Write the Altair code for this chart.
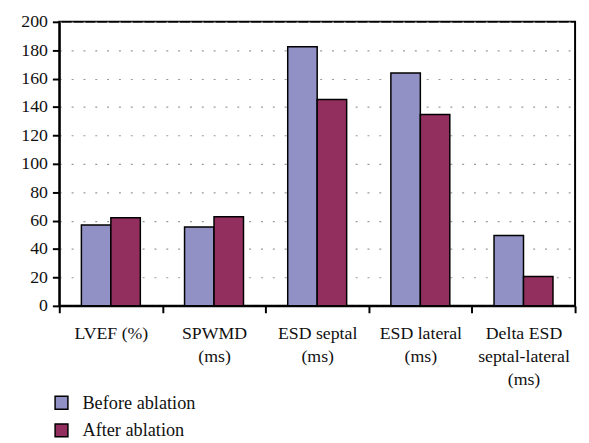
import altair as alt
import pandas as pd

categories = ["LVEF (%)", "SPWMD\n(ms)", "ESD septal\n(ms)", "ESD lateral\n(ms)", "Delta ESD\nseptal-lateral\n(ms)"]
before = [57, 55.5, 182.5, 164, 49.5]
after = [62, 62.7, 145.3, 134.7, 20.7]
series = ["Before ablation", "After ablation"]
colors = ["#9191C6", "#932F5E"]

rows = []
for c, b, a in zip(categories, before, after):
    rows.append({"cat": c, "series": series[0], "value": b})
    rows.append({"cat": c, "series": series[1], "value": a})
df = pd.DataFrame(rows)

FONT = "Liberation Serif"

chart = alt.Chart(df).mark_bar(stroke="#000000", strokeWidth=1.5, strokeOpacity=1).encode(
    x=alt.X("cat:N", sort=categories, title=None,
            scale=alt.Scale(paddingInner=0, paddingOuter=0),
            axis=alt.Axis(labelAngle=0, tickBand="extent", labelExpr="split(datum.label, '\\n')",
                          labelFontSize=18, labelColor="#111111",
                          labelLineHeight=23.5, labelPadding=12, labelBaseline="top",
                          domainColor="#000000", domainWidth=2, tickColor="#000000",
                          tickWidth=2, tickSize=7, grid=False)),
    xOffset=alt.XOffset("series:N", sort=series, scale=alt.Scale(paddingInner=0, paddingOuter=0.75)),
    y=alt.Y("value:Q", title=None,
            scale=alt.Scale(domain=[0, 200], nice=False),
            axis=alt.Axis(values=list(range(0, 201, 20)), labelFontSize=18,
                          labelColor="#111111", labelPadding=5,
                          domainColor="#000000", domainWidth=2, tickColor="#000000",
                          tickWidth=2, tickSize=7,
                          grid=True, gridColor="#999999", gridDash=[2, 10], gridWidth=1.2)),
    color=alt.Color("series:N", sort=series,
                    scale=alt.Scale(domain=series, range=colors),
                    legend=alt.Legend(title=None, orient="none", legendX=-7, legendY=377,
                                      symbolType="square", symbolSize=169,
                                      symbolStrokeColor="#000000", symbolStrokeWidth=1.5,
                                      labelFontSize=18.5, labelColor="#111111",
                                      labelOffset=12, rowPadding=8, padding=0)),
).properties(
    width=523, height=288,
    autosize=alt.AutoSizeParams(type="none"),
    padding={"left": 52, "top": 11, "right": 6, "bottom": 133},
).configure(
    background="white", font=FONT
).configure_axis(
    labelFont=FONT
).configure_legend(
    labelFont=FONT
).configure_view(
    stroke="#000000", strokeWidth=2
)

chart.save("out.html", embed_options={"renderer": "svg", "actions": False})
